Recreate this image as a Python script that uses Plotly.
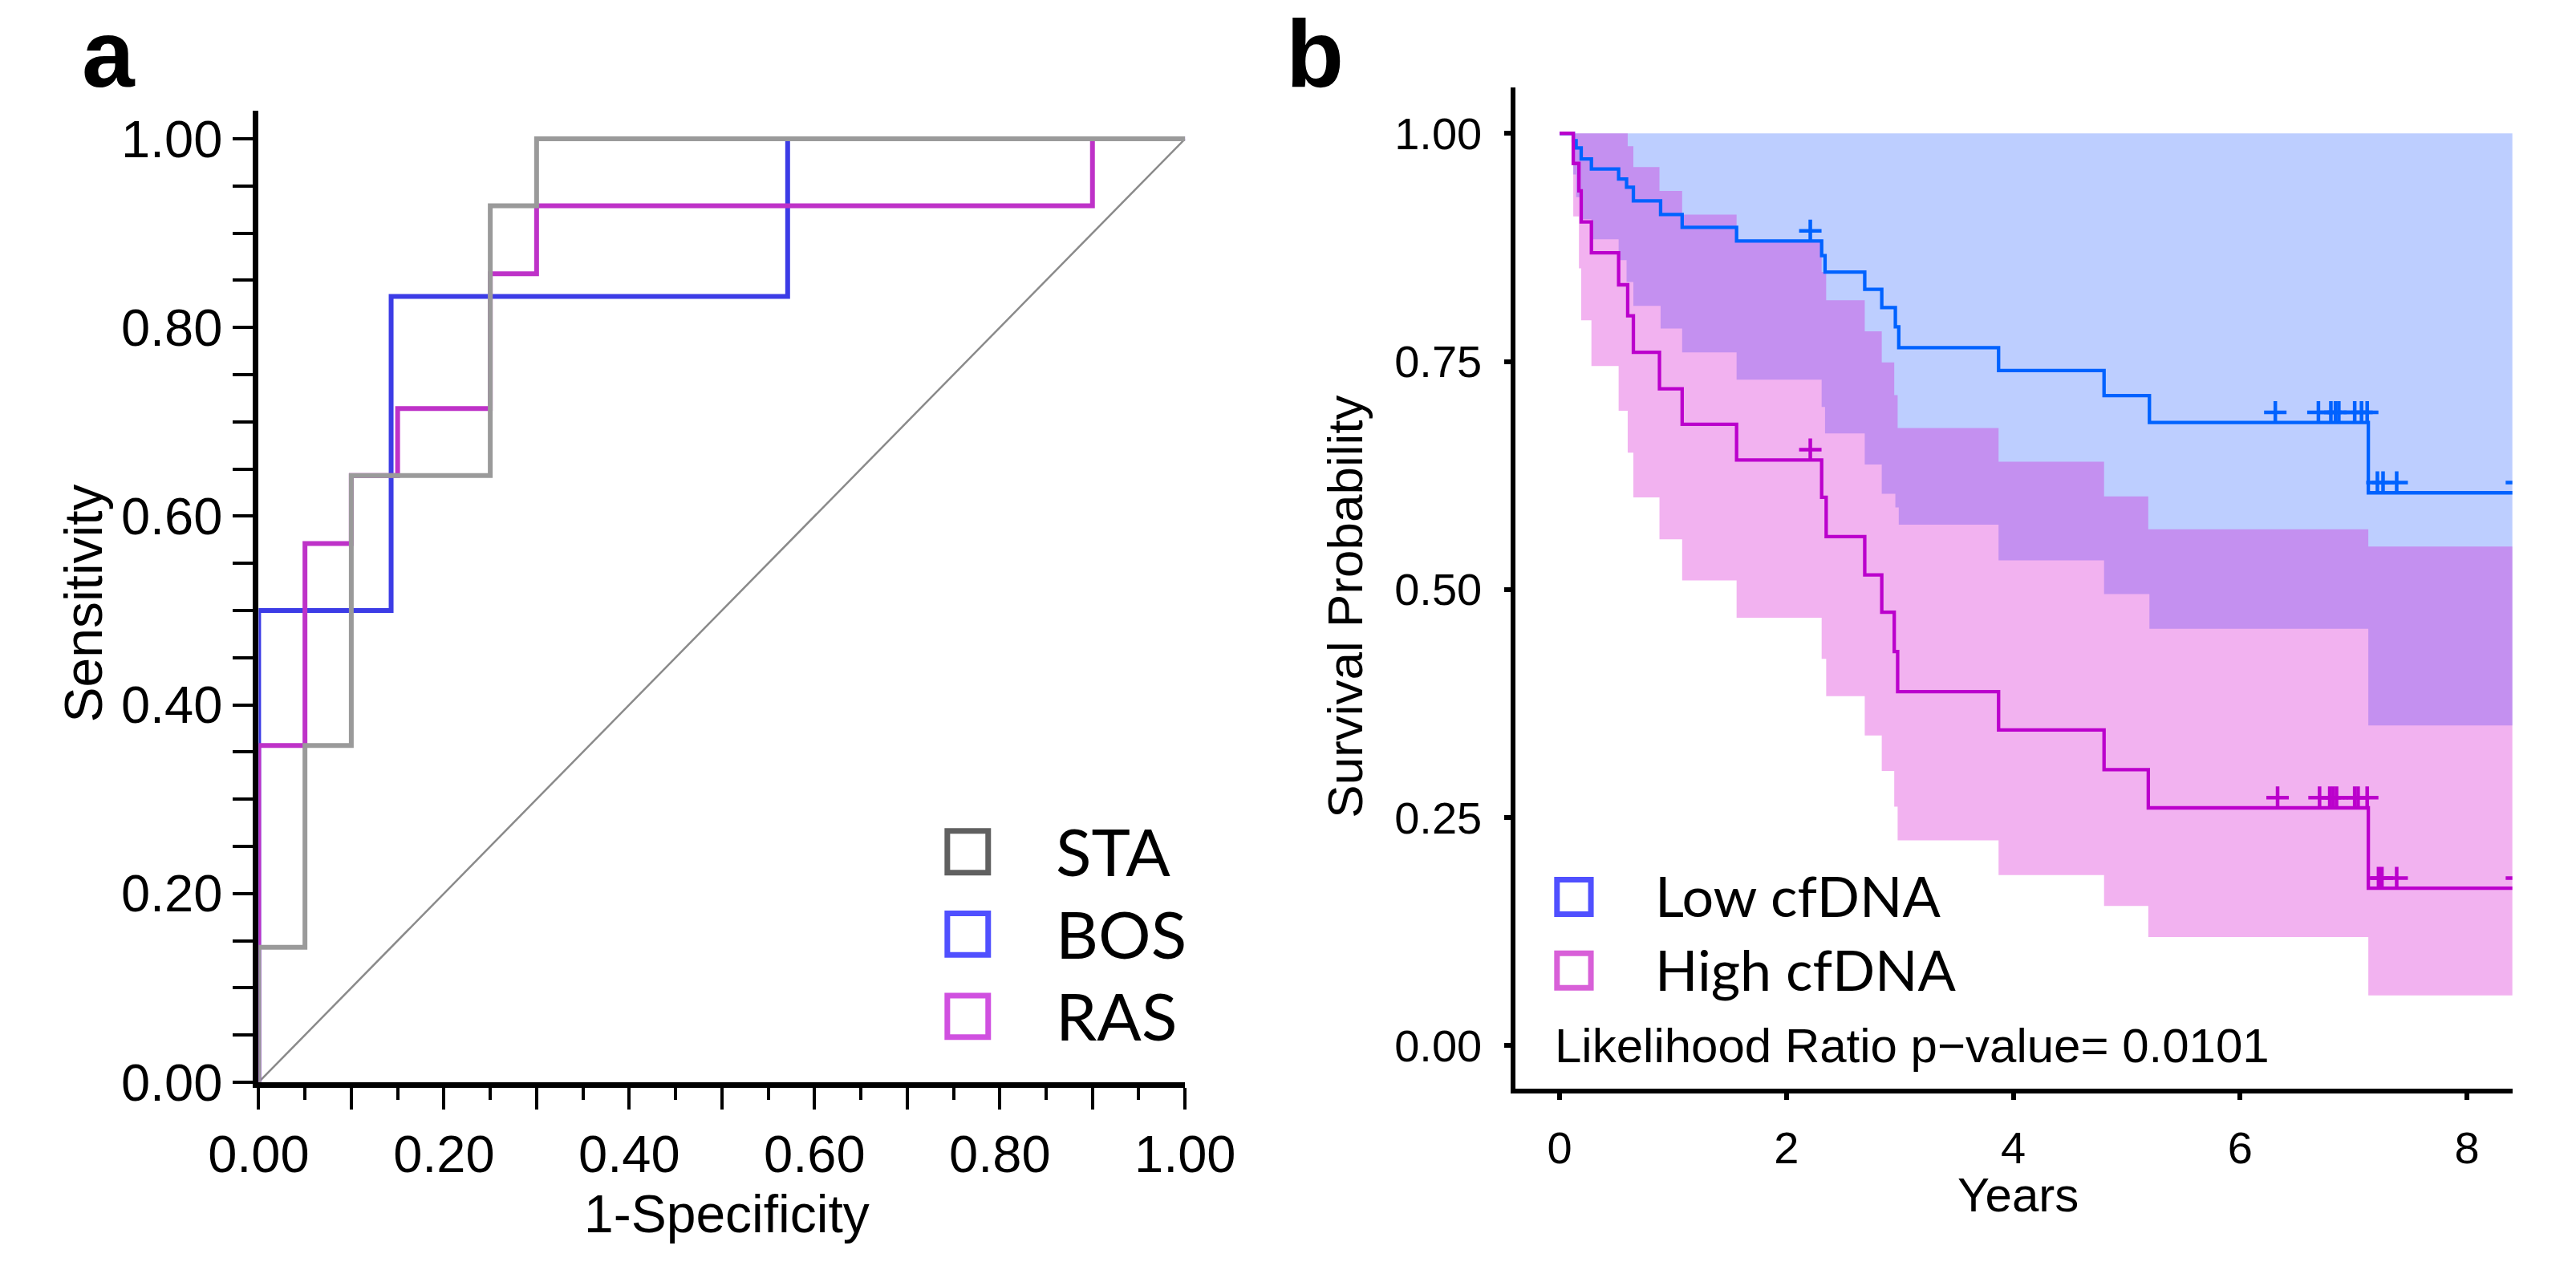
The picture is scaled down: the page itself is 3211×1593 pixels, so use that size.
import numpy as np
import plotly.graph_objs as graphObj
from plotly.subplots import make_subplots

W, H = 3211, 1593

# ---- panel a : ROC curves ----
roc_groups = ["STA", "BOS", "RAS"]
sta_fpr = [0, 0, 0.05, 0.10, 0.25, 0.30, 1.0]
sta_tpr = [0, 0.143, 0.357, 0.643, 0.929, 1.0, 1.0]
bos_fpr = [0, 0, 0.143, 0.571, 1.0]
bos_tpr = [0, 0.5, 0.833, 1.0, 1.0]
ras_fpr = [0, 0, 0.05, 0.10, 0.15, 0.25, 0.30, 0.90, 1.0]
ras_tpr = [0, 0.357, 0.571, 0.643, 0.714, 0.857, 0.929, 1.0, 1.0]
roc_xticks = [0, 0.1, 0.2, 0.3, 0.4, 0.5, 0.6, 0.7, 0.8, 0.9, 1.0]
roc_xticktext = ["0.00", "", "0.20", "", "0.40", "", "0.60", "", "0.80", "", "1.00"]

# ---- panel b : Kaplan-Meier ----
km_groups = ["Low cfDNA", "High cfDNA"]
low_time = [0, 0.12, 0.145, 0.19, 0.28, 0.52, 0.59, 0.65, 0.89, 1.08, 1.56, 2.31, 2.34,
            2.69, 2.84, 2.96, 2.99, 3.87, 4.80, 5.20, 7.13, 8.44]
low_surv = [1.0, 0.992, 0.984, 0.972, 0.961, 0.950, 0.941, 0.926, 0.911, 0.897, 0.882, 0.866, 0.848,
            0.829, 0.809, 0.788, 0.765, 0.740, 0.7125, 0.683, 0.606, 0.606]
low_lower = [1.0, 0.955, 0.93, 0.906, 0.884, 0.861, 0.837, 0.811, 0.786, 0.760, 0.730, 0.700, 0.671,
             0.637, 0.605, 0.590, 0.571, 0.532, 0.495, 0.457, 0.351, 0.351]
low_upper = [1.0] * 22
low_censor = [2.21, 6.31, 6.69, 6.80, 6.84, 6.87, 7.01, 7.07, 7.12, 7.21, 7.26, 7.38, 8.44]

high_time = [0, 0.12, 0.17, 0.19, 0.28, 0.52, 0.60, 0.65, 0.88, 1.08, 1.56, 2.31, 2.35,
             2.69, 2.84, 2.95, 2.98, 3.87, 4.80, 5.19, 7.13, 8.44]
high_surv = [1.0, 0.967, 0.937, 0.903, 0.869, 0.834, 0.800, 0.760, 0.720, 0.681, 0.642, 0.601, 0.558,
             0.516, 0.475, 0.432, 0.388, 0.346, 0.3025, 0.2606, 0.1725, 0.1725]
high_lower = [1.0, 0.909, 0.852, 0.795, 0.745, 0.696, 0.650, 0.601, 0.555, 0.510, 0.469, 0.424, 0.383,
              0.340, 0.301, 0.262, 0.225, 0.187, 0.153, 0.119, 0.055, 0.055]
high_upper = [1.0, 1.0, 1.0, 1.0, 1.0, 1.0, 0.986, 0.963, 0.937, 0.911, 0.882, 0.848, 0.817,
              0.783, 0.749, 0.713, 0.677, 0.640, 0.602, 0.566, 0.547, 0.547]
high_censor = [2.21, 6.33, 6.70, 6.79, 6.82, 6.85, 7.01, 7.04, 7.12, 7.22, 7.25, 7.38, 8.44]
year_ticks = [0, 2, 4, 6, 8]
surv_ticks = [0, 0.25, 0.5, 0.75, 1.0]
p_value = 0.0101

ARIAL = "Liberation Sans, Arial, sans-serif"
LATO = "Lato, sans-serif"


def px(x):
    return x / W


def py(y):
    return 1 - y / H


def survAt(times, surv, t):
    idx = np.searchsorted(np.array(times), np.array(t), side="right") - 1
    return np.array(surv)[idx]


fig = make_subplots(rows=1, cols=2)

# ROC: diagonal first, then BOS, RAS, STA on top
fig.add_trace(graphObj.Scatter(x=[0, 1], y=[0, 1], mode="lines",
                               line=dict(color="#8a8a8a", width=2.5)), 1, 1)
roc_colors = {"STA": "#9a9a9a", "BOS": "#3c3ce6", "RAS": "#be32c8"}
roc_data = {"STA": (sta_fpr, sta_tpr), "BOS": (bos_fpr, bos_tpr), "RAS": (ras_fpr, ras_tpr)}
for g in ["BOS", "RAS", "STA"]:
    fx, fy = roc_data[g]
    fig.add_trace(graphObj.Scatter(x=fx, y=fy, mode="lines", name=g, line_shape="hv",
                                   line=dict(color=roc_colors[g], width=6)), 1, 1)

# KM: confidence bands
fig.add_trace(graphObj.Scatter(x=low_time, y=low_lower, mode="lines", line_shape="hv",
                               line=dict(width=0), hoverinfo="skip"), 1, 2)
fig.add_trace(graphObj.Scatter(x=low_time, y=low_upper, mode="lines", line_shape="hv",
                               line=dict(width=0), fill="tonexty",
                               fillcolor="rgba(35,92,255,0.30)", hoverinfo="skip"), 1, 2)
fig.add_trace(graphObj.Scatter(x=high_time, y=high_lower, mode="lines", line_shape="hv",
                               line=dict(width=0), hoverinfo="skip"), 1, 2)
fig.add_trace(graphObj.Scatter(x=high_time, y=high_upper, mode="lines", line_shape="hv",
                               line=dict(width=0), fill="tonexty",
                               fillcolor="rgba(212,0,204,0.30)", hoverinfo="skip"), 1, 2)

km_colors = {"Low cfDNA": "#0062ff", "High cfDNA": "#bb00cc"}
km_data = {"Low cfDNA": (low_time, low_surv, low_censor),
           "High cfDNA": (high_time, high_surv, high_censor)}
lift = 13 / 1164  # censor crosses sit just on top of the curve
for g in km_groups:
    tt, ss, cc = km_data[g]
    fig.add_trace(graphObj.Scatter(x=tt, y=ss, mode="lines", name=g, line_shape="hv",
                                   line=dict(color=km_colors[g], width=4.3)), 1, 2)
    fig.add_trace(graphObj.Scatter(x=cc, y=survAt(tt, ss, cc) + lift, mode="markers",
                                   marker=dict(symbol="cross-thin", size=20,
                                               line=dict(color=km_colors[g], width=4.5))), 1, 2)

# axes panel a
fig.update_xaxes(row=1, col=1, domain=[px(270), px(1472)], range=[0, 1.0],
                 showline=True, linewidth=7, linecolor="black", showgrid=False, zeroline=False,
                 tickmode="array", tickvals=roc_xticks, ticktext=roc_xticktext,
                 ticks="outside", ticklen=27, tickwidth=3.5, tickcolor="black",
                 minor=dict(dtick=0.05, tick0=0, ticks="outside", ticklen=15, tickwidth=3.5,
                            tickcolor="black", showgrid=False),
                 tickfont=dict(family=ARIAL, size=65, color="black"))
fig.update_yaxes(row=1, col=1, domain=[py(1381), py(141)], range=[0, 1.03],
                 showline=True, linewidth=7, linecolor="black", showgrid=False, zeroline=False,
                 tickmode="array", tickvals=[0, 0.2, 0.4, 0.6, 0.8, 1.0], tickformat=".2f",
                 ticks="outside", ticklen=25, tickwidth=3.5, tickcolor="black",
                 minor=dict(dtick=0.05, tick0=0, ticks="outside", ticklen=25, tickwidth=3.5,
                            tickcolor="black", showgrid=False),
                 tickfont=dict(family=ARIAL, size=65, color="black"))

# axes panel b
fig.update_xaxes(row=1, col=2, domain=[px(1901), px(3194)], range=[-0.387, 8.40],
                 showline=True, linewidth=6, linecolor="black", showgrid=False, zeroline=False,
                 tickmode="array", tickvals=year_ticks,
                 ticks="outside", ticklen=8, tickwidth=6, tickcolor="black",
                 ticklabelstandoff=12,
                 tickfont=dict(family=ARIAL, size=56, color="black"))
fig.update_yaxes(row=1, col=2, domain=[py(1389), py(112)], range=[-0.047, 1.050],
                 showline=True, linewidth=6, linecolor="black", showgrid=False, zeroline=False,
                 tickmode="array", tickvals=surv_ticks, tickformat=".2f",
                 ticks="outside", ticklen=8, tickwidth=6, tickcolor="black",
                 ticklabelstandoff=17,
                 tickfont=dict(family=ARIAL, size=56, color="black"))

annotations = []


def addText(text, x, y, size, family=ARIAL, xanchor="center", angle=0):
    annotations.append(dict(text=text, x=px(x), y=py(y), xref="paper", yref="paper",
                            showarrow=False, xanchor=xanchor, yanchor="middle",
                            textangle=angle, font=dict(family=family, size=size, color="black")))


addText("<b>a</b>", 38, 110 - 0.347 * 118, 118, ARIAL, "left")
addText("<b>b</b>", 1601, 110 - 0.347 * 118, 118, ARIAL, "left")
addText("1-Specificity", 877, 1572 - 0.347 * 66, 66)
addText("Sensitivity", 66 - 0.347 * 66, 770, 66, angle=-90)
addText("Survival Probability", 1700 - 0.347 * 62, 774, 62, angle=-90)
addText("Years", 2553, 1546 - 0.347 * 60, 60)
addText("Likelihood Ratio p\u2212value= " + str(p_value), 1950, 1355 - 0.347 * 60, 60, xanchor="left")

shapes = []
leg_a_colors = {"STA": "#606060", "BOS": "#5050ff", "RAS": "#d050e0"}
for i, g in enumerate(roc_groups):
    cy = 1087 + i * 105
    shapes.append(dict(type="rect", xref="paper", yref="paper",
                       x0=px(1163.5), x1=px(1216.5), y0=py(cy + 26.5), y1=py(cy - 26.5),
                       line=dict(color=leg_a_colors[g], width=7), fillcolor="white"))
    addText(g, 1302, cy + 30 - 0.387 * 82, 82, LATO, "left")

leg_b_colors = {"Low cfDNA": "#5050ff", "High cfDNA": "#d860d8"}
for i, g in enumerate(km_groups):
    cy = 1144.5 + i * 94
    shapes.append(dict(type="rect", xref="paper", yref="paper",
                       x0=px(1954.5), x1=px(1998.5), y0=py(cy + 22), y1=py(cy - 22),
                       line=dict(color=leg_b_colors[g], width=7), fillcolor="white"))
    addText(g, 2080, cy + 25.5 - 0.387 * 70, 70, LATO, "left")

fig.update_layout(width=W, height=H, margin=dict(l=0, r=0, t=0, b=0),
                  paper_bgcolor="white", plot_bgcolor="white", showlegend=False,
                  annotations=annotations, shapes=shapes)

fig.write_html("out.html", config={"displayModeBar": False},
               post_script="document.body.style.margin='0';document.body.style.overflow='hidden';")
